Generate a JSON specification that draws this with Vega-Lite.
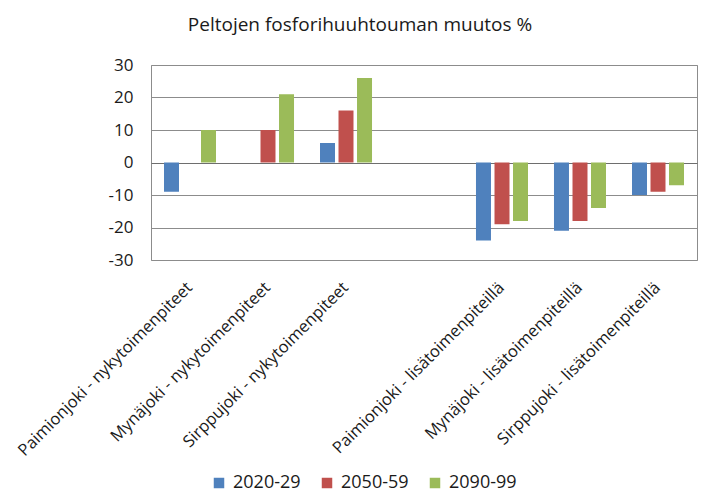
{
  "$schema": "https://vega.github.io/schema/vega-lite/v6.json",
  "width": 546,
  "height": 195,
  "autosize": "none",
  "padding": {"left": 151, "top": 65, "right": 18, "bottom": 244},
  "background": "white",
  "config": {
    "font": "Open Sans",
    "view": {"stroke": "#8c8c8c", "strokeWidth": 1}
  },
  "title": {
    "text": "Peltojen fosforihuuhtouman muutos %",
    "font": "Open Sans",
    "fontSize": 19,
    "fontWeight": "normal",
    "color": "#1a1a1a",
    "anchor": "middle",
    "dx": -64,
    "offset": 21
  },
  "data": {
    "values": [
      {"kohde": "Paimionjoki - nykytoimenpiteet", "jakso": "2020-29", "muutos": -9},
      {"kohde": "Paimionjoki - nykytoimenpiteet", "jakso": "2050-59", "muutos": 0},
      {"kohde": "Paimionjoki - nykytoimenpiteet", "jakso": "2090-99", "muutos": 10},
      {"kohde": "Mynäjoki - nykytoimenpiteet", "jakso": "2020-29", "muutos": 0},
      {"kohde": "Mynäjoki - nykytoimenpiteet", "jakso": "2050-59", "muutos": 10},
      {"kohde": "Mynäjoki - nykytoimenpiteet", "jakso": "2090-99", "muutos": 21},
      {"kohde": "Sirppujoki - nykytoimenpiteet", "jakso": "2020-29", "muutos": 6},
      {"kohde": "Sirppujoki - nykytoimenpiteet", "jakso": "2050-59", "muutos": 16},
      {"kohde": "Sirppujoki - nykytoimenpiteet", "jakso": "2090-99", "muutos": 26},
      {"kohde": "Paimionjoki - lisätoimenpiteillä", "jakso": "2020-29", "muutos": -24},
      {"kohde": "Paimionjoki - lisätoimenpiteillä", "jakso": "2050-59", "muutos": -19},
      {"kohde": "Paimionjoki - lisätoimenpiteillä", "jakso": "2090-99", "muutos": -18},
      {"kohde": "Mynäjoki - lisätoimenpiteillä", "jakso": "2020-29", "muutos": -21},
      {"kohde": "Mynäjoki - lisätoimenpiteillä", "jakso": "2050-59", "muutos": -18},
      {"kohde": "Mynäjoki - lisätoimenpiteillä", "jakso": "2090-99", "muutos": -14},
      {"kohde": "Sirppujoki - lisätoimenpiteillä", "jakso": "2020-29", "muutos": -10},
      {"kohde": "Sirppujoki - lisätoimenpiteillä", "jakso": "2050-59", "muutos": -9},
      {"kohde": "Sirppujoki - lisätoimenpiteillä", "jakso": "2090-99", "muutos": -7}
    ]
  },
  "mark": {"type": "bar"},
  "encoding": {
    "x": {
      "field": "kohde",
      "type": "nominal",
      "scale": {
        "domain": [
          "Paimionjoki - nykytoimenpiteet",
          "Mynäjoki - nykytoimenpiteet",
          "Sirppujoki - nykytoimenpiteet",
          " ",
          "Paimionjoki - lisätoimenpiteillä",
          "Mynäjoki - lisätoimenpiteillä",
          "Sirppujoki - lisätoimenpiteillä"
        ],
        "paddingInner": 0.29,
        "paddingOuter": 0.145
      },
      "axis": {
        "title": null,
        "domain": false,
        "ticks": false,
        "grid": false,
        "labelAngle": -45,
        "labelFont": "Open Sans",
        "labelFontSize": 16.5,
        "labelColor": "#1a1a1a",
        "labelPadding": 19,
        "labelOffset": -6,
        "labelLimit": 400
      }
    },
    "xOffset": {
      "field": "jakso",
      "type": "nominal",
      "scale": {"paddingInner": 0.19, "paddingOuter": 0.09}
    },
    "y": {
      "field": "muutos",
      "type": "quantitative",
      "scale": {"domain": [-30, 30], "nice": false},
      "axis": {
        "title": null,
        "values": [-30, -20, -10, 0, 10, 20, 30],
        "tickCount": 7,
        "labelExpr": "'' + datum.value",
        "labelOverlap": false,
        "grid": true,
        "gridColor": {"condition": {"test": "datum.value === 0", "value": "#6e6e6e"}, "value": "#8c8c8c"},
        "gridOpacity": 1,
        "domain": false,
        "ticks": false,
        "labelPadding": 18,
        "labelFont": "Open Sans",
        "labelFontSize": 17,
        "labelColor": "#1a1a1a"
      }
    },
    "color": {
      "field": "jakso",
      "type": "nominal",
      "scale": {
        "domain": ["2020-29", "2050-59", "2090-99"],
        "range": ["#4f81bd", "#c0504d", "#9bbb59"]
      },
      "legend": {
        "title": null,
        "orient": "none",
        "direction": "horizontal",
        "legendX": 59,
        "legendY": 409,
        "symbolType": "square",
        "symbolSize": 110,
        "symbolStrokeWidth": 0,
        "labelFont": "Open Sans",
        "labelFontSize": 18,
        "labelColor": "#1a1a1a",
        "labelOffset": 5,
        "columnPadding": 17
      }
    }
  }
}
